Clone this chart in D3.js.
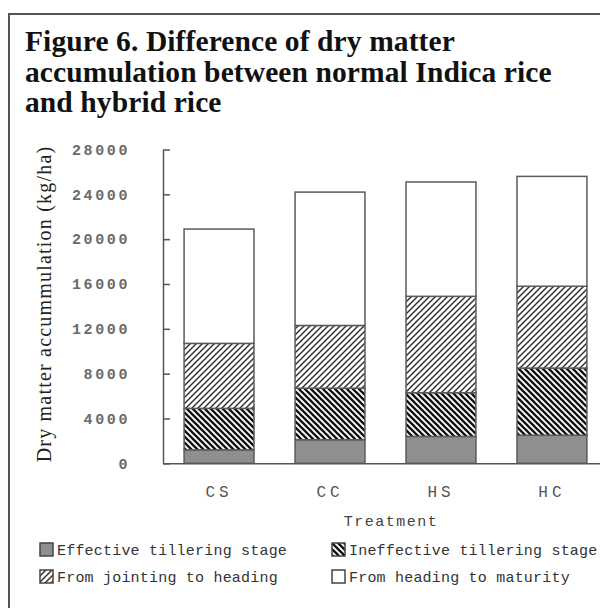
<!DOCTYPE html>
<html>
<head>
<meta charset="utf-8">
<script src="https://cdn.jsdelivr.net/npm/d3@7"></script>
<style>
  body { margin: 0; background: #fff; }
  svg { display: block; }
</style>
</head>
<body>
<svg width="600" height="608"></svg>
<script>
// data (kg/ha, per growth stage, stacked)
var treatments = ["CS", "CC", "HS", "HC"];
var stages = ["Effective tillering stage", "Ineffective tillering stage",
              "From jointing to heading", "From heading to maturity"];
var effective   = [1200, 2100, 2400, 2500];
var ineffective = [3700, 4600, 3900, 6000];
var jointing    = [5800, 5600, 8600, 7300];
var maturity    = [10200, 11900, 10200, 9800];
var yTicks = [0, 4000, 8000, 12000, 16000, 20000, 24000, 28000];
var titleLines = ["Figure 6. Difference of dry matter",
                  "accumulation between normal Indica rice",
                  "and hybrid rice"];

var svg = d3.select("svg");

// patterns
var defs = svg.append("defs");
var back = defs.append("pattern")
    .attr("id", "back")
    .attr("patternUnits", "userSpaceOnUse")
    .attr("width", 6).attr("height", 6);
back.append("rect").attr("width", 6).attr("height", 6).attr("fill", "#fff");
back.append("path")
    .attr("d", "M0,0 L6,6 M-1,5 L1,7 M5,-1 L7,1")
    .attr("stroke", "#111").attr("stroke-width", 2.3);

var fwd = defs.append("pattern")
    .attr("id", "fwd")
    .attr("patternUnits", "userSpaceOnUse")
    .attr("width", 6).attr("height", 6);
fwd.append("rect").attr("width", 6).attr("height", 6).attr("fill", "#fff");
fwd.append("path")
    .attr("d", "M0,6 L6,0 M-1,1 L1,-1 M5,7 L7,5")
    .attr("stroke", "#333").attr("stroke-width", 1.5);

var fills = ["#8f8f8f", "url(#back)", "url(#fwd)", "#fff"];

// frame
svg.append("path")
    .attr("d", "M9,608 L9,14 L600,14")
    .attr("fill", "none")
    .attr("stroke", "#555")
    .attr("stroke-width", 2);

// title
svg.append("g").selectAll("text")
    .data(titleLines)
    .enter().append("text")
    .attr("x", 25)
    .attr("y", function(d, i) { return 51 + i * 30.5; })
    .attr("font-family", "Liberation Serif, serif")
    .attr("font-weight", "bold")
    .attr("font-size", 29.5)
    .attr("letter-spacing", 0.1)
    .attr("fill", "#111")
    .text(function(d) { return d; });

// scales
var x = d3.scaleBand()
    .domain(treatments)
    .range([163, 608])
    .paddingInner(0.37)
    .paddingOuter(0.19);

var y = d3.scaleLinear()
    .domain([0, 28000])
    .range([463.3, 149.5]);

// stack
var rows = treatments.map(function(t, i) {
  return { t: t, s0: effective[i], s1: ineffective[i], s2: jointing[i], s3: maturity[i] };
});
var series = d3.stack().keys(["s0", "s1", "s2", "s3"])(rows);

var bars = svg.append("g");
bars.selectAll("g")
    .data(series)
    .enter().append("g")
    .attr("fill", function(d, i) { return fills[i]; })
    .selectAll("rect")
    .data(function(d) { return d; })
    .enter().append("rect")
    .attr("x", function(d) { return x(d.data.t); })
    .attr("y", function(d) { return y(d[1]); })
    .attr("width", x.bandwidth())
    .attr("height", function(d) { return y(d[0]) - y(d[1]); })
    .attr("stroke", "#5a5a5a")
    .attr("stroke-width", 1.5);

// y axis
var yAxis = svg.append("g")
    .attr("transform", "translate(163,0)")
    .call(d3.axisLeft(y)
      .tickValues(yTicks)
      .tickFormat(d3.format("d"))
      .tickSizeInner(-7)
      .tickSizeOuter(0)
      .tickPadding(33));
yAxis.select(".domain").attr("stroke", "#555").attr("stroke-width", 1.5);
yAxis.selectAll(".tick line").attr("stroke", "#555").attr("stroke-width", 1.5);
yAxis.selectAll("text")
    .attr("font-family", "Liberation Mono, monospace")
    .attr("font-weight", "bold")
    .attr("font-size", 15)
    .attr("letter-spacing", 2.6)
    .attr("fill", "#6a6a6a");

// x axis
var xAxis = svg.append("g")
    .attr("transform", "translate(0,463.3)")
    .call(d3.axisBottom(x).tickSize(0).tickPadding(22));
xAxis.select(".domain").attr("stroke", "#555").attr("stroke-width", 1.5);
xAxis.selectAll("text")
    .attr("font-family", "Liberation Mono, monospace")
    .attr("font-size", 16)
    .attr("letter-spacing", 4)
    .attr("fill", "#555");

// axis titles
svg.append("text")
    .attr("x", 391).attr("y", 526)
    .attr("text-anchor", "middle")
    .attr("font-family", "Liberation Mono, monospace")
    .attr("font-size", 15)
    .attr("letter-spacing", 1.5)
    .attr("fill", "#444")
    .text("Treatment");

svg.append("text")
    .attr("transform", "translate(51,304) rotate(-90)")
    .attr("text-anchor", "middle")
    .attr("font-family", "Liberation Serif, serif")
    .attr("font-size", 20)
    .attr("letter-spacing", 1.2)
    .attr("fill", "#222")
    .text("Dry matter accummulation (kg/ha)");

// legend
var legendPos = [[40, 543], [332, 543], [40, 570], [332, 570]];
var legend = svg.append("g").selectAll("g")
    .data(stages)
    .enter().append("g")
    .attr("transform", function(d, i) { return "translate(" + legendPos[i][0] + "," + legendPos[i][1] + ")"; });
legend.append("rect")
    .attr("width", 13).attr("height", 13)
    .attr("fill", function(d, i) { return fills[i]; })
    .attr("stroke", "#444")
    .attr("stroke-width", 1.5);
legend.append("text")
    .attr("x", 17).attr("y", 12)
    .attr("font-family", "Liberation Mono, monospace")
    .attr("font-size", 15)
    .attr("letter-spacing", 0.2)
    .attr("fill", "#333")
    .text(function(d) { return d; });
</script>
</body>
</html>
